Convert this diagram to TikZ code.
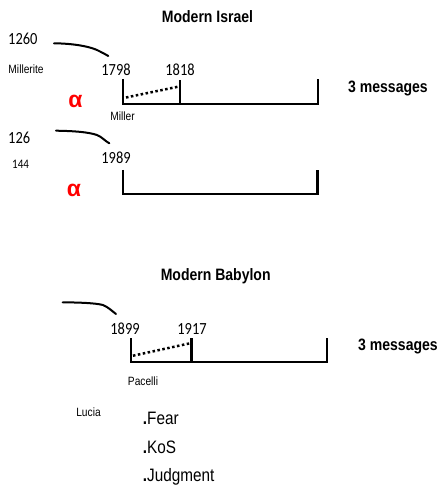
\documentclass[tikz,border=0pt]{standalone}
\usepackage{fontspec}
\setmainfont{Liberation Sans}[FakeStretch=0.85]
\newfontfamily\numfont{Carlito}[FakeStretch=0.85]
\newfontfamily\alphafont{Liberation Sans}
\begin{document}
\begin{tikzpicture}[x=1pt,y=-1pt,
  ttl/.style={font=\fontsize{16.5}{18}\selectfont\bfseries, inner sep=0, anchor=base},
  msg/.style={font=\fontsize{16.5}{18}\selectfont\bfseries, inner sep=0, anchor=base west},
  yr/.style={font=\numfont\fontsize{17}{18}\selectfont, inner sep=0, anchor=base},
  yrw/.style={font=\numfont\fontsize{17}{18}\selectfont, inner sep=0, anchor=base west},
  sml/.style={font=\fontsize{12}{13}\selectfont, inner sep=0, anchor=base},
  alp/.style={font=\alphafont\fontsize{23}{24}\selectfont\bfseries, text=red, inner sep=0},
  lst/.style={font=\fontsize{18}{20}\selectfont, inner sep=0, anchor=base west},
  brk/.style={line width=2.5pt, line join=miter},
  tick/.style={line width=2.5pt},
  dots/.style={line width=2.5pt, dash pattern=on 2.5pt off 2.5pt},
  curv/.style={line width=2pt, line cap=round}]
\useasboundingbox (0,0) rectangle (441,486);

% ---------- Modern Israel ----------
\node[ttl] (t1) at (207.5,22.7) {Modern Israel};
\node[yrw] (n1260) at (8,45) {1260};
\node[sml, anchor=base west] (millerite) at (8.3,73.3) {Millerite};
\node[yr] (y1798) at (116,75.7) {1798};
\node[yr] (y1818) at (180,75.7) {1818};
\node[alp] (a1) at (75.5,101) {α};
\node[sml] (miller) at (122.5,121) {Miller};
\node[msg] (m1) at (348,92.3) {3 messages};

\coordinate (c1s) at (54,43.3);
\coordinate (c1e) at (108.3,56);
\draw[curv] (c1s) .. controls (72,43.5) and (88,46) .. (97,50) .. controls (101,52) and (105,54) .. (c1e);

\coordinate (b1a) at (123,79);
\coordinate (b1b) at (123,104);
\coordinate (b1c) at (318,104);
\coordinate (b1d) at (318,79);
\draw[brk] (b1a) -- (b1b) -- (b1c) -- (b1d);
\coordinate (k1a) at (180,80);
\coordinate (k1b) at (180,104);
\draw[tick] (k1a) -- (k1b);
\coordinate (d1s) at (126,97.5);
\coordinate (d1e) at (179,86.5);
\draw[dots] (d1s) -- (d1e);

% ---------- second row ----------
\node[yrw] (n126) at (8,144) {126};
\node[font=\numfont\fontsize{13}{14}\selectfont, inner sep=0, anchor=base west] (n144) at (12,168) {144};
\node[yr] (y1989) at (116,163.3) {1989};
\node[alp] (a2) at (74,190.5) {α};

\coordinate (c2s) at (56,130.7);
\coordinate (c2e) at (109.3,143.3);
\draw[curv] (c2s) .. controls (74,131) and (88,132) .. (97,135) .. controls (102,137) and (105,141) .. (c2e);

\coordinate (b2a) at (123,170);
\coordinate (b2b) at (123,194);
\coordinate (b2c) at (317.5,194);
\coordinate (b2d) at (317.5,170);
\draw[brk] (b2a) -- (b2b) -- (b2c) -- (b2d);

% ---------- Modern Babylon ----------
\node[ttl] (t2) at (215.7,280.7) {Modern Babylon};
\node[yr] (y1899) at (125,334) {1899};
\node[yr] (y1917) at (192,334) {1917};
\node[msg] (m2) at (358,350.7) {3 messages};
\node[sml] (pacelli) at (143,385) {Pacelli};
\node[sml] (lucia) at (88.5,416) {Lucia};

\coordinate (c3s) at (62.7,302.3);
\coordinate (c3e) at (116,314);
\draw[curv] (c3s) .. controls (80,302.5) and (95,303) .. (103,305) .. controls (108,307) and (112,311) .. (c3e);

\coordinate (b3a) at (131,338);
\coordinate (b3b) at (131,362);
\coordinate (b3c) at (327,362);
\coordinate (b3d) at (327,338);
\draw[brk] (b3a) -- (b3b) -- (b3c) -- (b3d);
\coordinate (k3a) at (191.5,338);
\coordinate (k3b) at (191.5,362);
\draw[tick] (k3a) -- (k3b);
\coordinate (d3s) at (133,355.7);
\coordinate (d3e) at (190,343.3);
\draw[dots] (d3s) -- (d3e);

\node[lst] (fear) at (142.7,424) {\textbf{.}Fear};
\node[lst] (kos) at (142.7,453) {\textbf{.}KoS};
\node[lst] (judg) at (142.7,481) {\textbf{.}Judgment};
\end{tikzpicture}
\end{document}
